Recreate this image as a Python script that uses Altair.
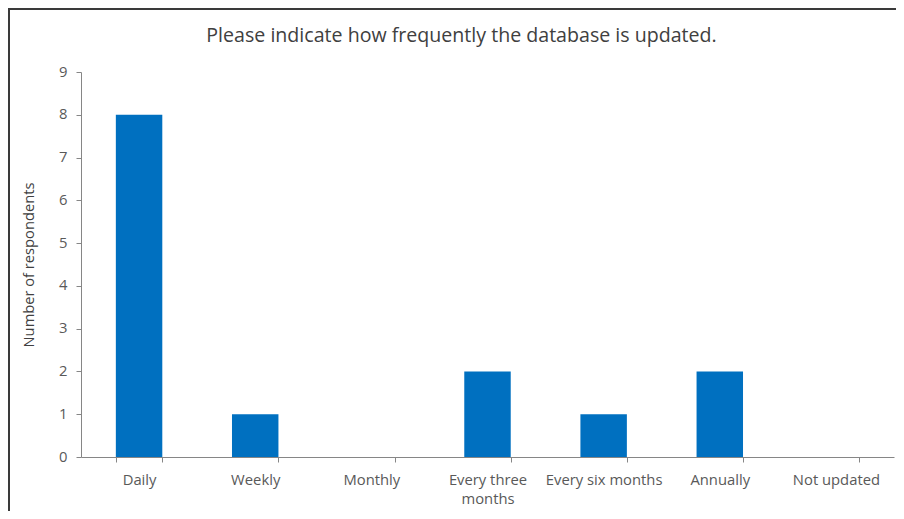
import altair as alt
import pandas as pd

categories = ["Daily", "Weekly", "Monthly", "Every three months",
              "Every six months", "Annually", "Not updated"]
respondents = [8, 1, 0, 2, 1, 2, 0]
y_ticks = [0, 1, 2, 3, 4, 5, 6, 7, 8, 9]

df = pd.DataFrame({"category": categories, "count": respondents})

FONT = "Open Sans"

bars = alt.Chart(df).mark_bar(color="#0070C0").encode(
    x=alt.X(
        "category:N",
        sort=categories,
        scale=alt.Scale(paddingInner=0.6, paddingOuter=0.3),
        axis=alt.Axis(
            title=None,
            labelAngle=0,
            labelFontSize=14.8,
            labelColor="#595959",
            labelFont=FONT,
            labelPadding=10,
            tickBand="extent",
            tickSize=5,
            tickColor="#868686",
            domainColor="#868686",
            labelExpr="datum.label == 'Every three months' ? ['Every three', 'months'] : datum.label",
            labelLineHeight=19,
        ),
    ),
    y=alt.Y(
        "count:Q",
        scale=alt.Scale(domain=[0, 9], nice=False),
        axis=alt.Axis(
            title="Number of respondents",
            titleFontSize=14.7,
            titleFontWeight="normal",
            titleColor="#404040",
            titleFont=FONT,
            titlePadding=22,
            values=y_ticks,
            grid=False,
            labelFontSize=14.8,
            labelColor="#595959",
            labelFont=FONT,
            labelPadding=9,
            tickSize=5,
            tickColor="#868686",
            domainColor="#868686",
        ),
    ),
)

frame = alt.Chart(df).mark_rect(
    fill=None, stroke="#3a3a3a", strokeWidth=2
).encode(
    x=alt.value(-72), x2=alt.value(840),
    y=alt.value(-63), y2=alt.value(470),
)

chart = alt.layer(bars, frame).properties(
    width=813,
    height=385,
    autosize=alt.AutoSizeParams(type="none"),
    padding={"left": 73, "top": 64, "right": 2, "bottom": 54},
    title=alt.TitleParams(
        "Please indicate how frequently the database is updated.",
        fontSize=19.6,
        fontWeight="normal",
        color="#404040",
        font=FONT,
        anchor="middle",
        dx=-26,
        offset=-39,
    ),
).configure_view(stroke=None)

chart.save("out.html", embed_options={"renderer": "svg", "actions": False})
